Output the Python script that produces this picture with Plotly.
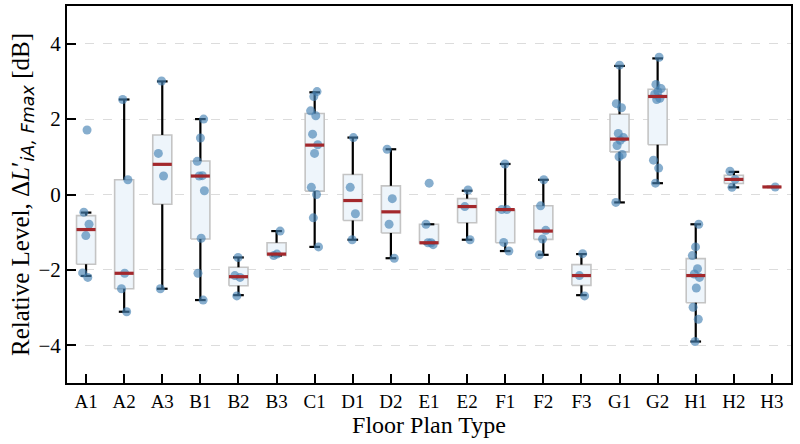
import numpy as np
import plotly.graph_objects as go

categories = ["A1", "A2", "A3", "B1", "B2", "B3", "C1", "D1", "D2", "E1",
              "E2", "F1", "F2", "F3", "G1", "G2", "H1", "H2", "H3"]

# box statistics
q1 = [-1.85, -2.50, -0.26, -1.18, -2.42, -1.62, 0.09, -0.69, -1.02, -1.30,
      -0.75, -1.28, -1.19, -2.41, 1.13, 1.32, -2.87, 0.29, 0.20]
median = [-0.93, -2.09, 0.80, 0.49, -2.18, -1.58, 1.31, -0.16, -0.46, -1.28,
          -0.32, -0.40, -0.97, -2.15, 1.47, 2.60, -2.15, 0.40, 0.20]
q3 = [-0.56, 0.39, 1.58, 0.89, -1.93, -1.28, 2.15, 0.53, 0.23, -0.79,
      -0.11, -0.41, -0.30, -1.86, 2.13, 2.79, -1.70, 0.51, 0.20]
whisker_low = [-2.16, -3.11, -2.50, -2.80, -2.67, -1.62, -1.39, -1.20, -1.69, -1.30,
               -1.20, -1.50, -1.60, -2.67, -0.21, 0.30, -3.90, 0.19, 0.20]
whisker_high = [-0.48, 2.52, 3.00, 2.00, -1.67, -0.97, 2.71, 1.51, 1.20, -0.79,
                0.10, 0.81, 0.39, -1.58, 3.41, 3.61, -0.79, 0.60, 0.20]

# individual observations
points = {
    "A1": [1.71, -0.47, -0.79, -1.09, -2.08, -2.20],
    "A2": [2.52, 0.39, -2.09, -2.50, -3.11],
    "A3": [3.01, 1.09, 0.49, -2.50],
    "B1": [2.00, 1.50, 0.88, 0.50, 0.49, 0.10, -1.16, -2.09, -2.80],
    "B2": [-1.67, -2.15, -2.20, -2.69],
    "B3": [-0.97, -1.58, -1.62],
    "C1": [2.73, 2.60, 2.22, 2.09, 1.60, 1.32, 1.09, 0.19, 0.00, -0.62, -1.39],
    "D1": [1.51, 0.19, -0.51, -1.20],
    "D2": [1.20, -0.11, -0.79, -1.69],
    "E1": [0.30, -0.79, -1.28, -1.28, -1.33],
    "E2": [0.12, -0.32, -1.20],
    "F1": [0.81, -0.40, -0.40, -1.27, -1.50],
    "F2": [0.39, -0.30, -0.95, -1.18, -1.60],
    "F3": [-1.57, -2.15, -2.69],
    "G1": [3.43, 2.41, 2.30, 1.62, 1.51, 1.44, 1.30, 1.06, 1.00, -0.21],
    "G2": [3.64, 2.92, 2.81, 2.73, 2.66, 2.55, 2.52, 0.91, 0.70, 0.30],
    "H1": [-0.79, -1.39, -1.62, -1.97, -2.11, -2.20, -2.48, -2.99, -3.31, -3.90],
    "H2": [0.62, 0.40, 0.19],
    "H3": [0.20],
}

yticks = [-4, -2, 0, 2, 4]
ytick_labels = ["\u22124", "\u22122", "0", "2", "4"]

BOX_HALF = 0.25
CAP_HALF = 0.14
JITTER = 0.11

FONT = "Liberation Serif"

pos = np.arange(len(categories))

# box rectangles
bx, by = [], []
for i in pos:
    bx += [i - BOX_HALF, i + BOX_HALF, i + BOX_HALF, i - BOX_HALF, i - BOX_HALF, None]
    by += [q1[i], q1[i], q3[i], q3[i], q1[i], None]

# whiskers and caps
wx, wy = [], []
for i in pos:
    wx += [i, i, None, i, i, None,
           i - CAP_HALF, i + CAP_HALF, None, i - CAP_HALF, i + CAP_HALF, None]
    wy += [q1[i], whisker_low[i], None, q3[i], whisker_high[i], None,
           whisker_low[i], whisker_low[i], None, whisker_high[i], whisker_high[i], None]

# medians
mx, my = [], []
for i in pos:
    mx += [i - BOX_HALF, i + BOX_HALF, None]
    my += [median[i], median[i], None]

# points with deterministic jitter
px, py = [], []
golden = 0.6180339887
k = 0
for i, c in enumerate(categories):
    for v in points[c]:
        off = (((k + 1) * golden) % 1.0 - 0.5) * 2 * JITTER
        px.append(i + off)
        py.append(v)
        k += 1

fig = go.Figure()
fig.add_trace(go.Scatter(x=bx, y=by, mode="lines", fill="toself",
                         fillcolor="#eef5fb",
                         line=dict(color="#c4c4c4", width=1.6),
                         hoverinfo="skip", showlegend=False))
fig.add_trace(go.Scatter(x=wx, y=wy, mode="lines",
                         line=dict(color="black", width=2.2),
                         hoverinfo="skip", showlegend=False))
fig.add_trace(go.Scatter(x=px, y=py, mode="markers",
                         marker=dict(color="rgba(70,130,180,0.65)", size=9,
                                     line=dict(width=0)),
                         showlegend=False))
fig.add_trace(go.Scatter(x=mx, y=my, mode="lines",
                         line=dict(color="#a3282c", width=3.2),
                         hoverinfo="skip", showlegend=False))

fig.update_layout(
    width=800, height=444,
    margin=dict(l=67, r=9, t=4, b=61),
    paper_bgcolor="white", plot_bgcolor="white",
    font=dict(family=FONT, color="black"),
    showlegend=False,
)
fig.update_xaxes(
    range=[-0.5, len(categories) - 0.5],
    tickmode="array", tickvals=list(pos), ticktext=categories,
    tickfont=dict(size=19, family=FONT),
    ticks="inside", ticklen=9, tickwidth=1.5, tickcolor="black",
    showline=True, linecolor="black", linewidth=2, mirror=True,
    showgrid=False, zeroline=False,
    title=dict(text="Floor Plan Type", font=dict(size=24, family=FONT), standoff=4),
)
fig.update_yaxes(
    range=[-5, 5],
    tickmode="array", tickvals=yticks, ticktext=ytick_labels,
    tickfont=dict(size=21, family=FONT),
    ticks="inside", ticklen=9, tickwidth=1.5, tickcolor="black",
    showline=True, linecolor="black", linewidth=2, mirror=True,
    showgrid=True, gridcolor="#dcdcdc", griddash="dash", gridwidth=1,
    zeroline=False,
    title=dict(
        text="Relative Level, \u0394<i>L</i>\u2032<sub><span style=\"font-family:'DejaVu Sans'\"><i>iA, Fmax</i></span></sub> [dB]",
        font=dict(size=25, family=FONT), standoff=2),
)

fig.write_html("out.html")
